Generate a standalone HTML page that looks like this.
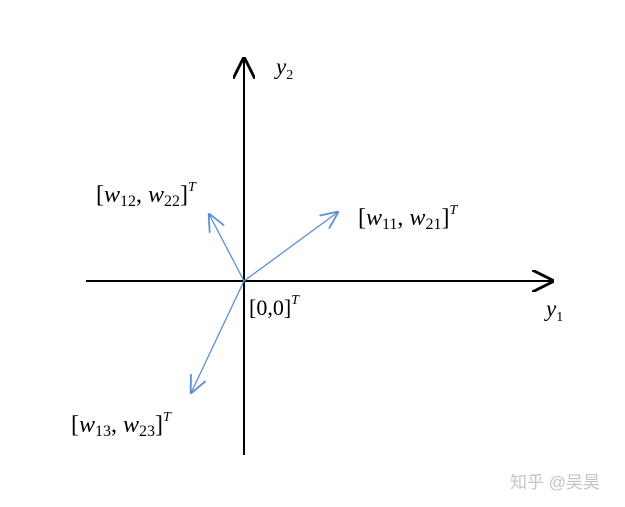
<!DOCTYPE html>
<html><head><meta charset="utf-8"><style>
html,body{margin:0;padding:0;background:#fff;width:625px;height:507px;overflow:hidden}
svg{display:block}
text{font-family:"Liberation Serif","DejaVu Serif",serif;fill:#000}
</style></head><body>
<svg id="chart" width="625" height="507" viewBox="0 0 625 507">
<defs>
<marker id="ab" viewBox="0 0 10 10" refX="9" refY="5" markerWidth="22" markerHeight="22" markerUnits="userSpaceOnUse" orient="auto"><path d="M0,0 L10,5 L0,10" fill="none" stroke="#000" stroke-width="1.3"/></marker>
<marker id="bb" viewBox="0 0 10 10" refX="9.5" refY="5" markerWidth="18" markerHeight="18" markerUnits="userSpaceOnUse" orient="auto"><path d="M0,0.5 L10,5 L0,9.5" fill="none" stroke="#5b8fd6" stroke-width="1"/></marker>
</defs>
<line x1="86" y1="281" x2="552" y2="281" stroke="#000" stroke-width="2" marker-end="url(#ab)"/>
<line x1="244" y1="455" x2="244" y2="59" stroke="#000" stroke-width="2" marker-end="url(#ab)"/>
<text x="276" y="74" font-size="23" font-style="italic">y<tspan font-size="14" font-style="normal" dy="5">2</tspan></text>
<text x="546" y="316" font-size="23" font-style="italic">y<tspan font-size="14" font-style="normal" dy="5">1</tspan></text>
<g id="vecs"></g>
<text x="249" y="315" font-size="22">[0,0]<tspan font-size="14" font-style="italic" dy="-11">T</tspan></text>
<text x="510" y="488" font-size="17" style="fill:#c4c4c4;font-family:'Liberation Sans','Noto Sans CJK SC',sans-serif">知乎 @吴昊</text>
</svg>
<script>
const vectors = [
  {name:"w1", x:94, y:69, label:"w11,w21", lx:358, ly:225},
  {name:"w2", x:-35, y:67, label:"w12,w22", lx:96, ly:202},
  {name:"w3", x:-53, y:-112, label:"w13,w23", lx:71, ly:432}
];
const ox=244, oy=281;
function sx(v){return ox+v;}
function sy(v){return oy-v;}
const NS="http://www.w3.org/2000/svg";
const g=document.getElementById('vecs');
const svg=document.getElementById('chart');
vectors.forEach(v=>{
  const l=document.createElementNS(NS,'line');
  
  
  l.setAttribute('x1',ox);l.setAttribute('y1',oy);
  l.setAttribute('x2',sx(v.x));l.setAttribute('y2',sy(v.y));
  l.setAttribute('stroke','#5b8fd6');l.setAttribute('stroke-width','1.3');
  l.setAttribute('marker-end','url(#bb)');
  g.appendChild(l);
  const p=v.label.split(',');
  const t=document.createElementNS(NS,'text');
  
  
  t.setAttribute('x',v.lx);t.setAttribute('y',v.ly);
  t.setAttribute('font-size','24');
  t.innerHTML='[<tspan font-style="italic">w</tspan><tspan font-size="16" dy="4">'+p[0].slice(1)+'</tspan><tspan dy="-4">, </tspan><tspan font-style="italic">w</tspan><tspan font-size="16" dy="4">'+p[1].slice(1)+'</tspan><tspan dy="-4">]</tspan><tspan font-size="14" font-style="italic" dy="-11">T</tspan>';
  svg.appendChild(t);
});
</script>
</body></html>
